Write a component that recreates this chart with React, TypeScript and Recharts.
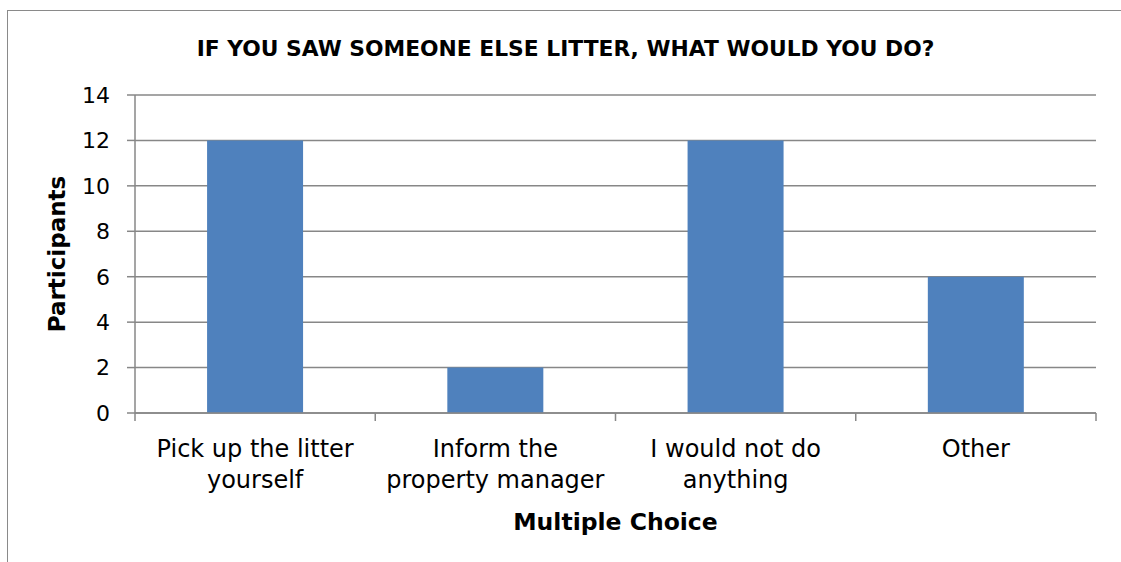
import React from 'react';
import { BarChart, Bar, XAxis, YAxis, CartesianGrid, Label } from 'recharts';

const categories = ['Pick up the litter\nyourself', 'Inform the\nproperty manager', 'I would not do\nanything', 'Other'];
const participants = [12, 2, 12, 6];
const yTicks = [0, 2, 4, 6, 8, 10, 12, 14];

const data = categories.map((c, i) => ({ name: c, value: participants[i] }));

const FONT = '"DejaVu Sans", sans-serif';
const GRID = '#878787';

const CategoryTick = (props: any) => {
  const { x, y, payload, index } = props;
  const lines = String(payload.value).split('\n');
  const off = payload.offset || 0;
  return (
    <g>
      <line x1={x - off} y1={y - 8} x2={x - off} y2={y} stroke={GRID} strokeWidth={1.5} />
      {index === categories.length - 1 && (
        <line x1={x + off} y1={y - 8} x2={x + off} y2={y} stroke={GRID} strokeWidth={1.5} />
      )}
      <text x={x} textAnchor="middle" fontFamily={FONT} fontSize={24} fill="#000">
        {lines.map((l, i) => (
          <tspan key={i} x={x} y={y + 36 + i * 31}>{l}</tspan>
        ))}
      </text>
    </g>
  );
};

export default function App() {
  return (
    <div style={{ position: 'absolute', left: 0, top: 0, width: 1121, height: 562, overflow: 'hidden', background: '#fff' }}>
      <div style={{ position: 'absolute', left: 7, top: 10, width: 1200, height: 700, border: '1.5px solid #8a8a8a' }} />
      <div style={{ position: 'absolute', left: 0, width: 1131, top: 36, textAlign: 'center', fontFamily: FONT, fontWeight: 'bold', fontSize: 21.8, color: '#000' }}>
        IF YOU SAW SOMEONE ELSE LITTER, WHAT WOULD YOU DO?
      </div>
      <div style={{ position: 'absolute', left: 0, top: 0 }}>
        <BarChart width={1121} height={562} data={data} margin={{ top: 95, right: 25, bottom: 49, left: 75 }} barCategoryGap="30%">
          <CartesianGrid vertical={false} stroke={GRID} strokeWidth={1.5} />
          <XAxis dataKey="name" height={100} tickSize={8} tickMargin={0} tickLine={false} axisLine={{ stroke: GRID, strokeWidth: 1.5 }} tick={<CategoryTick />} interval={0}>
            <Label content={(p: any) => {
              const vb = p.viewBox;
              return (
                <text x={vb.x + vb.width / 2} y={vb.y + 117} textAnchor="middle" fontFamily={FONT} fontWeight="bold" fontSize={23.5} fill="#000">Multiple Choice</text>
              );
            }} />
          </XAxis>
          <YAxis width={60} domain={[0, 14]} ticks={yTicks} tickSize={8} tickMargin={17} axisLine={{ stroke: GRID, strokeWidth: 1.5 }} tickLine={{ stroke: GRID, strokeWidth: 1.5 }} tick={{ fontFamily: FONT, fontSize: 22, fill: '#000' }}>
            <Label content={(p: any) => {
              const vb = p.viewBox;
              const cx = vb.x - 18;
              const cy = vb.y + vb.height / 2;
              return (
                <text x={cx} y={cy} transform={`rotate(-90 ${cx} ${cy})`} textAnchor="middle" dominantBaseline="central" fontFamily={FONT} fontWeight="bold" fontSize={23} fill="#000">Participants</text>
              );
            }} />
          </YAxis>
          <Bar dataKey="value" fill="#4F81BD" isAnimationActive={false} />
        </BarChart>
      </div>
    </div>
  );
}
